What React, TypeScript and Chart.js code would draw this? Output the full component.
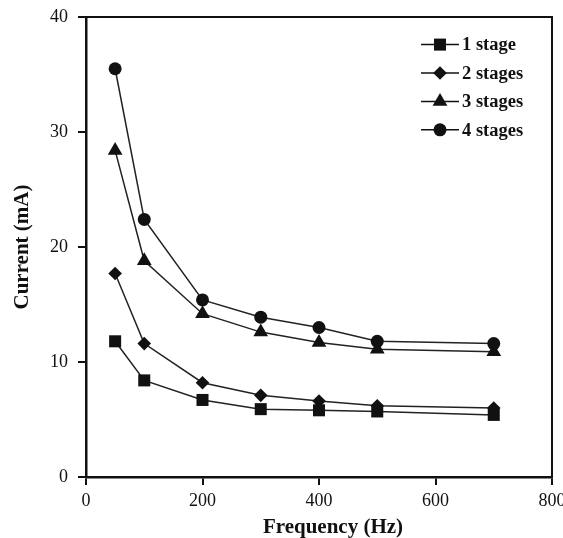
import React, { useEffect, useRef } from "react";
import { Chart, registerables } from "chart.js";

Chart.register(...registerables);

const frequencies = [50, 100, 200, 300, 400, 500, 700];
const stage1 = [11.8, 8.4, 6.7, 5.9, 5.8, 5.7, 5.4];
const stage2 = [17.7, 11.6, 8.2, 7.1, 6.6, 6.2, 6.0];
const stage3 = [28.4, 18.8, 14.2, 12.6, 11.7, 11.1, 10.9];
const stage4 = [35.5, 22.4, 15.4, 13.9, 13.0, 11.8, 11.6];
const seriesLabels = ["1 stage", "2 stages", "3 stages", "4 stages"];
const pointStyles = ["rect", "rectRot", "triangle", "circle"];
const pointRadii = [8.5, 6.8, 8.5, 6.5];
const xTickValues = [0, 200, 400, 600, 800];
const yTickValues = [0, 10, 20, 30, 40];
const xTitle = "Frequency (Hz)";
const yTitle = "Current (mA)";

const FONT = "'Liberation Serif', 'Times New Roman', serif";
const INK = "#111";

function drawMarker(ctx: CanvasRenderingContext2D, style: string, x: number, y: number, r: number) {
  ctx.beginPath();
  if (style === "rect") {
    const s = r * Math.SQRT1_2;
    ctx.rect(x - s, y - s, 2 * s, 2 * s);
  } else if (style === "rectRot") {
    ctx.moveTo(x, y - r);
    ctx.lineTo(x + r, y);
    ctx.lineTo(x, y + r);
    ctx.lineTo(x - r, y);
    ctx.closePath();
  } else if (style === "triangle") {
    for (let k = 0; k < 3; k++) {
      const a = (k * 2 * Math.PI) / 3;
      const px = x + Math.sin(a) * r;
      const py = y - Math.cos(a) * r;
      if (k === 0) ctx.moveTo(px, py);
      else ctx.lineTo(px, py);
    }
    ctx.closePath();
  } else {
    ctx.arc(x, y, r, 0, Math.PI * 2);
  }
  ctx.fill();
}

const framePlugin = {
  id: "frameAndLegend",
  afterDraw(chart: any) {
    const { ctx, chartArea } = chart;
    ctx.save();
    ctx.strokeStyle = INK;
    ctx.lineWidth = 2;
    ctx.beginPath();
    ctx.moveTo(chartArea.left, chartArea.top);
    ctx.lineTo(chartArea.right, chartArea.top);
    ctx.lineTo(chartArea.right, chartArea.bottom);
    ctx.stroke();

    // x axis title
    ctx.fillStyle = INK;
    ctx.font = `bold 21px ${FONT}`;
    ctx.textAlign = "center";
    ctx.textBaseline = "middle";
    ctx.fillText(xTitle, (chartArea.left + chartArea.right) / 2 + 14, chartArea.bottom + 51);

    // legend
    const x0 = chartArea.right - 131;
    const x1 = chartArea.right - 93;
    const xm = (x0 + x1) / 2;
    chart.data.datasets.forEach((ds: any, i: number) => {
      const y = chartArea.top + 27.6 + i * 28.4;
      ctx.strokeStyle = INK;
      ctx.lineWidth = 1.5;
      ctx.beginPath();
      ctx.moveTo(x0, y);
      ctx.lineTo(x1, y);
      ctx.stroke();
      ctx.fillStyle = INK;
      drawMarker(ctx, ds.pointStyle, xm, y, ds.pointRadius);
      ctx.font = `bold 18.5px ${FONT}`;
      ctx.textBaseline = "middle";
      ctx.textAlign = "left";
      ctx.fillText(ds.label, x1 + 3, y + 1);
    });
    ctx.restore();
  },
};

export default function App() {
  const ref = useRef<HTMLCanvasElement | null>(null);

  useEffect(() => {
    document.body.style.margin = "0";
    const series = [stage1, stage2, stage3, stage4];
    const chart = new Chart(ref.current as HTMLCanvasElement, {
      type: "line",
      data: {
        datasets: series.map((vals, i) => ({
          label: seriesLabels[i],
          data: frequencies.map((f, j) => ({ x: f, y: vals[j] })),
          borderColor: "#222",
          borderWidth: 1.5,
          backgroundColor: INK,
          pointBackgroundColor: INK,
          pointBorderColor: INK,
          pointBorderWidth: 0,
          pointStyle: pointStyles[i],
          pointRadius: pointRadii[i],
          pointHoverRadius: pointRadii[i],
          tension: 0,
          fill: false,
        })),
      },
      options: {
        responsive: false,
        animation: false,
        layout: { padding: { top: 17, right: 11, left: 0, bottom: 0 } },
        plugins: {
          legend: { display: false },
          tooltip: { enabled: false },
        },
        scales: {
          x: {
            type: "linear",
            min: 0,
            max: 800,
            afterBuildTicks: (scale: any) => {
              scale.ticks = xTickValues.map((v) => ({ value: v }));
            },
            afterFit: (scale: any) => {
              scale.height = 61;
              scale.paddingLeft = 0;
              scale.paddingRight = 0;
            },
            ticks: {
              font: { family: FONT, size: 18 },
              color: INK,
              padding: 5,
              maxRotation: 0,
              autoSkip: false,
            },
            grid: {
              drawOnChartArea: false,
              drawTicks: true,
              tickLength: 8,
              color: INK,
              lineWidth: 2,
            },
            border: { display: true, color: INK, width: 2.5 },
          },
          y: {
            type: "linear",
            min: 0,
            max: 40,
            afterBuildTicks: (scale: any) => {
              scale.ticks = yTickValues.map((v) => ({ value: v }));
            },
            afterFit: (scale: any) => {
              scale.width = 86;
              scale.paddingTop = 0;
              scale.paddingBottom = 0;
            },
            ticks: {
              font: { family: FONT, size: 18 },
              color: INK,
              padding: 10,
              autoSkip: false,
            },
            grid: {
              drawOnChartArea: false,
              drawTicks: true,
              tickLength: 8,
              color: INK,
              lineWidth: 2,
            },
            border: { display: true, color: INK, width: 2.5 },
            title: {
              display: true,
              text: yTitle,
              font: { family: FONT, size: 21, weight: "bold", lineHeight: 1 },
              color: INK,
              padding: { top: 12, bottom: 0 },
            },
          },
        },
      },
      plugins: [framePlugin],
    } as any);
    return () => chart.destroy();
  }, []);

  return (
    <div style={{ width: 563, height: 538, background: "#fff" }}>
      <canvas ref={ref} width={563} height={538} />
    </div>
  );
}
